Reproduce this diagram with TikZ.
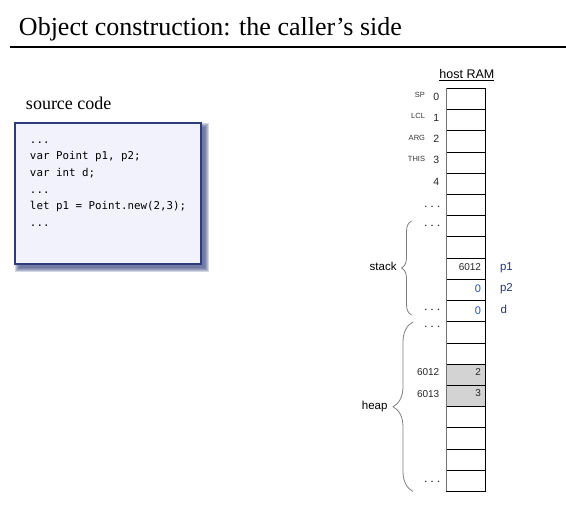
\documentclass[tikz,border=0pt]{standalone}
\usepackage{fontspec}
\setmainfont{Liberation Serif}
\setsansfont{Liberation Sans}
\setmonofont{DejaVu Sans Mono}
\usetikzlibrary{calc,decorations.pathreplacing}
\definecolor{codeframe}{HTML}{2E3C7C}
\definecolor{codefill}{HTML}{F2F2FC}
\definecolor{codeshade}{HTML}{3A4580}
\definecolor{heapgray}{HTML}{D3D3D3}
\definecolor{valblue}{HTML}{1556C0}
\definecolor{varblue}{HTML}{1F3580}
\definecolor{bracegray}{HTML}{808080}
\begin{document}
\begin{tikzpicture}[x=1pt,y=-1pt,
  cell/.style={draw=black, line width=0.8pt, minimum width=39pt,
    minimum height=21.22pt, inner sep=0pt, outer sep=0pt},
  txt/.style={inner sep=0pt, outer sep=0pt},
  reg/.style={txt, anchor=base east, font=\sffamily\fontsize{7.5}{9}\selectfont, text=black!80},
  addr/.style={txt, anchor=base east, font=\sffamily\fontsize{10.5}{12}\selectfont, text=black!85},
  dotsl/.style={txt, anchor=base east, font=\fontsize{14.6}{16}\selectfont, text=black!85},
  val/.style={txt, anchor=base east, font=\sffamily\fontsize{10}{12}\selectfont, text=black!85},
  bval/.style={txt, anchor=base east, font=\sffamily\fontsize{11}{13}\selectfont, text=valblue},
  var/.style={txt, anchor=base west, font=\sffamily\fontsize{11.5}{13}\selectfont, text=varblue},
  codeline/.style={txt, anchor=base west, font=\ttfamily\fontsize{10.8}{13}\selectfont, text=black},
  bracestyle/.style={draw=bracegray, line width=0.8pt, decorate}
]
\useasboundingbox[fill=white] (0,0) rectangle (566,505);

% title and rule
\node[txt, anchor=base west, font=\fontsize{26}{30}\selectfont] (title) at (19,36)
  {Object construction: the caller’s side};
\coordinate (rule-l) at (10,47);
\coordinate (rule-r) at (566,47);
\draw[line width=1.1pt] (rule-l) -- (rule-r);

% source code panel
\node[txt, anchor=base west, font=\fontsize{18}{20}\selectfont] (srclabel) at (26,109.3) {source code};
\node[minimum width=186pt, minimum height=141pt, inner sep=0pt, outer sep=0pt] (code) at (108,193.5) {};
\foreach \r in {4,3,2,1,0}
  \fill[codeshade, opacity=0.22]
    ($(code.north west)+(4-\r,4-\r)$) rectangle ($(code.south east)+(4+\r,4+\r)$);
\draw[codeframe, line width=1.2pt, fill=codefill] (code.north west) rectangle (code.south east);
\node[codeline] (l1) at (30,143.3) {...};
\node[codeline] (l2) at (30,160)   {var Point p1, p2;};
\node[codeline] (l3) at (30,176.7) {var int d;};
\node[codeline] (l4) at (30,193.3) {...};
\node[codeline] (l5) at (30,210)   {let p1 = Point.new(2,3);};
\node[codeline] (l6) at (30,226.7) {...};

% RAM column
\node[txt, anchor=base, font=\sffamily\fontsize{12.5}{14}\selectfont] (ram) at (466.9,78.3) {\underline{host RAM}};
\foreach \i in {0,...,18}{
  \ifnum\i=13 \def\cellfill{heapgray}\else\ifnum\i=14 \def\cellfill{heapgray}\else\def\cellfill{none}\fi\fi
  \node[cell, fill=\cellfill] (r\i) at (466.2,{98.9+21.22*\i}) {};
}
\draw[black!55, line width=1.3pt] (r0.north west) -- (r18.south west);

% register names and addresses
\foreach \i/\n in {0/SP,1/LCL,2/ARG,3/THIS}
  \node[reg, xshift=-21.7pt, yshift=1.2pt] (reg\i) at (r\i.west) {\n};
\foreach \i in {0,...,4}
  \node[addr, xshift=-7.4pt, yshift=-1.3pt] (a\i) at (r\i.west) {\i};

% ellipses
\node[dotsl, xshift=-6.1pt, yshift=-5.35pt] (d5)  at (r5.west)  {$\cdots$};
\node[dotsl, xshift=-6.1pt, yshift=-3.15pt] (d6)  at (r6.west)  {$\cdots$};
\node[dotsl, xshift=-6.1pt, yshift=-2.55pt] (d10) at (r10.west) {$\cdots$};
\node[dotsl, xshift=-6.1pt, yshift=1.65pt]  (d11) at (r11.west) {$\cdots$};
\node[dotsl, xshift=-6.1pt, yshift=-4.45pt] (d18) at (r18.west) {$\cdots$};

% stack contents
\node[val,  xshift=-4.7pt, yshift=-1.6pt] (v8)  at (r8.east)  {6012};
\node[bval, xshift=-4.7pt, yshift=-2.4pt] (v9)  at (r9.east)  {0};
\node[bval, xshift=-4.7pt, yshift=-3.0pt] (v10) at (r10.east) {0};
\node[var, xshift=14.3pt, yshift=-2.0pt] (p1) at (r8.east)  {p1};
\node[var, xshift=14.3pt, yshift=-2.1pt] (p2) at (r9.east)  {p2};
\node[var, xshift=14.8pt, yshift=-2.2pt] (dv) at (r10.east) {d};

% heap contents
\node[addr, font=\sffamily\fontsize{10}{12}\selectfont, xshift=-7.4pt, yshift=-0.9pt] (h1) at (r13.west) {6012};
\node[addr, font=\sffamily\fontsize{10}{12}\selectfont, xshift=-7.4pt, yshift=-1.7pt] (h2) at (r14.west) {6013};
\node[val, xshift=-4.7pt, yshift=-1.2pt] (x1) at (r13.east) {2};
\node[val, xshift=-4.7pt, yshift=-0.7pt] (y1) at (r14.east) {3};

% segment braces
\coordinate (stk-top) at (411.5,221);
\coordinate (stk-bot) at (411.5,315);
\draw[bracestyle, decoration={brace, amplitude=10pt}] (stk-bot) -- (stk-top);
\node[txt, anchor=base east, font=\sffamily\fontsize{11.5}{13}\selectfont] (stk) at (396.5,270.7) {stack};
\coordinate (hp-top) at (413,322);
\coordinate (hp-bot) at (413,491.5);
\draw[bracestyle, decoration={brace, amplitude=20pt}] (hp-bot) -- (hp-top);
\node[txt, anchor=base east, font=\sffamily\fontsize{11.5}{13}\selectfont] (hp) at (387.5,409.3) {heap};
\end{tikzpicture}
\end{document}
